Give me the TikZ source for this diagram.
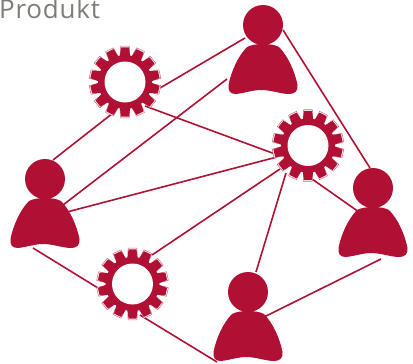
\documentclass[tikz,border=0pt]{standalone}
\usepackage{fontspec}
\setmainfont{Open Sans}[LetterSpace=3]
\definecolor{crim}{HTML}{B01034}
\definecolor{rim}{HTML}{D0657C}
\definecolor{txt}{HTML}{7E7E76}
\tikzset{
  x=1pt,y=-1pt,
  link/.style={draw=crim,line width=1.6pt},
  personshape/.pic={
    \fill[crim] (0,0) circle (20);
    \fill[crim] (0,19) .. controls (-7,19) and (-12,20) .. (-16,22)
      .. controls (-25,31) and (-32,47) .. (-34.5,60)
      .. controls (-35,66) and (-33,69) .. (-27,69)
      .. controls (-18,68) and (-10,65) .. (-2,65)
      .. controls (8,65) and (18,69) .. (26,69)
      .. controls (32,69) and (35,66) .. (34.5,60)
      .. controls (32,47) and (25,31) .. (16,22)
      .. controls (12,20) and (7,19) .. (0,19) -- cycle;
  },
  gearshape/.pic={
    \foreach \a in {0,1,...,13}{
      \begin{scope}[rotate=\a*25.714]
        \draw[rim,line width=.5pt,fill=white] (-4.7,-30) -- (-4.4,-35.8) -- (4.4,-35.8) -- (4.7,-30) -- cycle;
        \fill[crim] (-5.4,-25) -- (-3.9,-34.6) -- (3.9,-34.6) -- (5.4,-25) -- cycle;
      \end{scope}
    }
    \fill[crim] (0,0) circle (27);
    \fill[white] (0,0) circle (20.5);
  }
}
\begin{document}
\begin{tikzpicture}
\useasboundingbox (0,0) rectangle (413,364);
% connector ends
\coordinate (a1) at (245,38);  \coordinate (g1a) at (160,88);
\coordinate (a2) at (227,79);  \coordinate (l1) at (63,205);
\coordinate (a3) at (283,30);  \coordinate (r1) at (370,168);
\coordinate (g1b) at (113,113); \coordinate (l2) at (53,160);
\coordinate (g1c) at (145,106); \coordinate (g2a) at (275,154);
\coordinate (l3) at (67,212);  \coordinate (g2b) at (277,157);
\coordinate (g3a) at (152,255); \coordinate (g2c) at (280,169);
\coordinate (b1) at (256,272); \coordinate (g2d) at (286,173);
\coordinate (g2e) at (312,179); \coordinate (r2) at (359,212);
\coordinate (l4) at (33,248);  \coordinate (g3b) at (98,288);
\coordinate (g3c) at (140,315); \coordinate (b2) at (217,362);
\coordinate (b3) at (264,317); \coordinate (r3) at (381,259);
\draw[link] (a1) -- (g1a);
\draw[link] (a2) -- (l1);
\draw[link] (a3) -- (r1);
\draw[link] (g1b) -- (l2);
\draw[link] (g1c) -- (g2a);
\draw[link] (l3) -- (g2b);
\draw[link] (g3a) -- (g2c);
\draw[link] (b1) -- (g2d);
\draw[link] (g2e) -- (r2);
\draw[link] (l4) -- (g3b);
\draw[link] (g3c) -- (b2);
\draw[link] (b3) -- (r3);
\pic at (263,25) {personshape};
\pic at (45,179) {personshape};
\pic at (373,188) {personshape};
\pic at (248,292) {personshape};
\pic at (125,82) {gearshape};
\pic at (308,145.5) {gearshape};
\pic at (132.5,284) {gearshape};
\node[anchor=base west,inner sep=0pt,text=txt,font=\fontsize{26}{26}\selectfont] (title) at (-1,19) {Produkt};
\end{tikzpicture}
\end{document}
